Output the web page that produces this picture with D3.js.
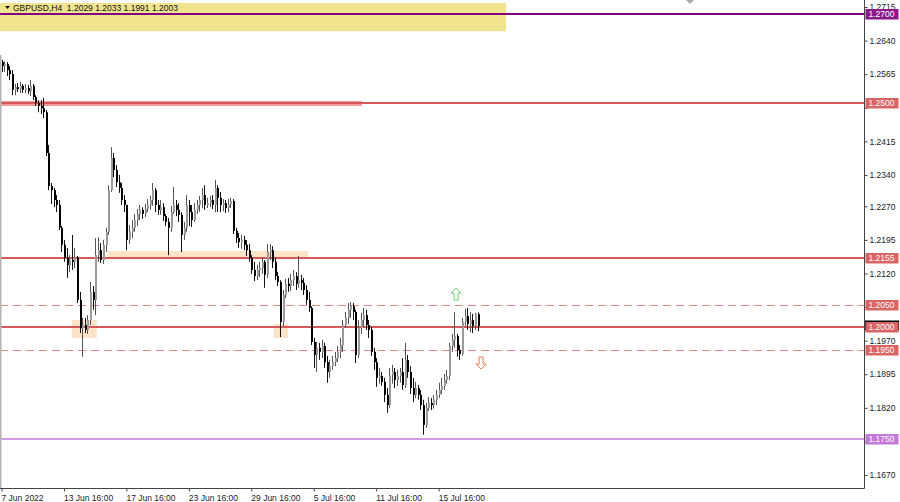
<!DOCTYPE html>
<html><head><meta charset="utf-8">
<script src="https://cdn.jsdelivr.net/npm/d3@7"></script>
<style>
html,body{margin:0;padding:0;background:#fff;}
svg{display:block;font-family:"Liberation Sans",Arial,sans-serif;}
</style></head>
<body><svg id="c" width="900" height="502"></svg>
<script>
// ---- data ----
const symbolTitle = "GBPUSD,H4  1.2029 1.2033 1.1991 1.2003";
const dateLabels = ["7 Jun 2022","13 Jun 16:00","17 Jun 16:00","23 Jun 16:00","29 Jun 16:00","5 Jul 16:00","11 Jul 16:00","15 Jul 16:00"];
const dateTickIdx = [0,24,48,72,96,120,144,168];
const priceTicks = [1.2715,1.2640,1.2565,1.2490,1.2415,1.2340,1.2270,1.2195,1.2120,1.2045,1.1970,1.1895,1.1820,1.1745,1.1670];
const hiddenTicks = [1.2490,1.2045,1.1745]; // covered by level labels in the original
const openP = [1.2592,1.2583,1.2588,1.2574,1.2565,1.2530,1.2536,1.2532,1.2539,1.2530,1.2534,1.2527,1.2539,1.2514,1.2501,1.2494,1.2489,1.2480,1.2389,1.2315,
1.2306,1.2284,1.2273,1.2222,1.2184,1.2155,1.2139,1.2150,1.2146,1.2155,1.2061,1.1998,1.2005,1.1994,1.2016,1.2079,1.2061,1.2161,1.2172,1.2150,
1.2184,1.2213,1.2306,1.2378,1.2351,1.2324,1.2311,1.2284,1.2273,1.2195,1.2213,1.2222,1.2239,1.2253,1.2262,1.2253,1.2264,1.2273,1.2284,1.2306,
1.2273,1.2262,1.2268,1.2248,1.2235,1.2222,1.2257,1.2273,1.2262,1.2251,1.2206,1.2222,1.2273,1.2257,1.2239,1.2262,1.2273,1.2284,1.2295,1.2273,
1.2277,1.2284,1.2273,1.2311,1.2289,1.2273,1.2277,1.2266,1.2275,1.2282,1.2215,1.2199,1.2190,1.2195,1.2184,1.2172,1.2155,1.2128,1.2114,1.2128,
1.2132,1.2146,1.2117,1.2168,1.2172,1.2146,1.2114,1.2101,1.2012,1.2072,1.2097,1.2092,1.2105,1.2114,1.2097,1.2105,1.2099,1.2083,1.2061,1.2043,
1.1967,1.1938,1.1954,1.1945,1.1958,1.1922,1.1900,1.1913,1.1922,1.1931,1.1945,1.1960,1.2005,1.2021,1.2039,1.2047,1.2034,1.1938,1.1998,1.2016,
1.2027,1.2005,1.1994,1.1945,1.1922,1.1887,1.1891,1.1878,1.1849,1.1826,1.1893,1.1900,1.1882,1.1891,1.1900,1.1871,1.1927,1.1900,1.1864,1.1849,
1.1864,1.1849,1.1826,1.1782,1.1820,1.1831,1.1826,1.1838,1.1849,1.1860,1.1869,1.1882,1.1891,1.1958,1.1972,1.1980,1.1949,1.1940,1.2012,1.2025,
1.2007,1.2016,1.2003,1.2029];
const highP = [1.2597,1.2594,1.2592,1.2583,1.2574,1.2543,1.2545,1.2548,1.2543,1.2543,1.2541,1.2552,1.2543,1.2518,1.2507,1.2507,1.2512,1.2485,1.2407,1.2322,
1.2311,1.2295,1.2284,1.2226,1.2195,1.2177,1.2161,1.2206,1.2177,1.2159,1.2079,1.2021,1.2021,1.2027,1.2101,1.2092,1.2199,1.2201,1.2188,1.2195,
1.2222,1.2317,1.2402,1.2389,1.2362,1.2340,1.2322,1.2295,1.2273,1.2228,1.2239,1.2253,1.2264,1.2273,1.2268,1.2275,1.2286,1.2293,1.2322,1.2311,
1.2284,1.2284,1.2277,1.2253,1.2244,1.2271,1.2313,1.2284,1.2277,1.2257,1.2235,1.2295,1.2284,1.2273,1.2277,1.2284,1.2293,1.2311,1.2317,1.2289,
1.2293,1.2295,1.2329,1.2317,1.2302,1.2286,1.2284,1.2286,1.2289,1.2286,1.2222,1.2210,1.2206,1.2204,1.2195,1.2186,1.2161,1.2146,1.2139,1.2146,
1.2155,1.2150,1.2186,1.2186,1.2181,1.2155,1.2123,1.2105,1.2083,1.2108,1.2110,1.2119,1.2128,1.2123,1.2159,1.2117,1.2110,1.2094,1.2079,1.2047,
1.1976,1.1967,1.1965,1.1972,1.1965,1.1936,1.1927,1.1936,1.1945,1.1958,1.1976,1.2016,1.2034,1.2054,1.2056,1.2054,1.2039,1.2016,1.2032,1.2043,
1.2039,1.2016,1.2001,1.1954,1.1931,1.1909,1.1900,1.1887,1.1864,1.1909,1.1916,1.1909,1.1905,1.1909,1.1931,1.1965,1.1938,1.1913,1.1887,1.1878,
1.1871,1.1860,1.1838,1.1831,1.1844,1.1842,1.1849,1.1860,1.1876,1.1887,1.1896,1.1905,1.1965,1.1985,1.2034,1.1985,1.1960,1.2021,1.2041,1.2043,
1.2034,1.2030,1.2032,1.2033];
const lowP = [1.2570,1.2570,1.2561,1.2552,1.2518,1.2518,1.2525,1.2523,1.2523,1.2523,1.2521,1.2516,1.2507,1.2494,1.2480,1.2476,1.2467,1.2382,1.2306,1.2275,
1.2268,1.2257,1.2217,1.2168,1.2146,1.2110,1.2123,1.2128,1.2132,1.2054,1.1987,1.1934,1.1987,1.1985,1.2005,1.2039,1.2027,1.2146,1.2143,1.2141,
1.2168,1.2206,1.2302,1.2335,1.2313,1.2300,1.2273,1.2257,1.2172,1.2186,1.2199,1.2213,1.2226,1.2239,1.2242,1.2246,1.2257,1.2262,1.2271,1.2257,
1.2251,1.2251,1.2237,1.2226,1.2161,1.2213,1.2253,1.2248,1.2235,1.2168,1.2195,1.2213,1.2226,1.2224,1.2235,1.2253,1.2257,1.2266,1.2262,1.2266,
1.2268,1.2264,1.2257,1.2257,1.2257,1.2259,1.2255,1.2257,1.2266,1.2208,1.2188,1.2177,1.2175,1.2172,1.2159,1.2146,1.2119,1.2103,1.2105,1.2112,
1.2119,1.2088,1.2110,1.2150,1.2132,1.2105,1.2092,1.1978,1.2003,1.2065,1.2079,1.2081,1.2092,1.2083,1.2088,1.2083,1.2072,1.2050,1.2034,1.1960,
1.1909,1.1900,1.1927,1.1931,1.1909,1.1876,1.1887,1.1905,1.1913,1.1922,1.1931,1.1945,1.1998,1.2007,1.2021,1.2016,1.1920,1.1931,1.1985,1.2001,
1.1994,1.1976,1.1936,1.1905,1.1867,1.1874,1.1869,1.1833,1.1809,1.1820,1.1874,1.1864,1.1869,1.1876,1.1860,1.1864,1.1887,1.1851,1.1833,1.1842,
1.1838,1.1815,1.1760,1.1775,1.1813,1.1815,1.1818,1.1826,1.1842,1.1851,1.1860,1.1874,1.1882,1.1945,1.1954,1.1934,1.1927,1.1936,1.2003,1.1994,
1.1989,1.1987,1.1994,1.1991];
const closeP = [1.2583,1.2588,1.2574,1.2565,1.2530,1.2536,1.2532,1.2539,1.2530,1.2534,1.2527,1.2539,1.2514,1.2501,1.2494,1.2489,1.2480,1.2389,1.2315,1.2306,
1.2284,1.2273,1.2222,1.2184,1.2155,1.2139,1.2150,1.2146,1.2155,1.2061,1.1998,1.2005,1.1994,1.2016,1.2079,1.2061,1.2161,1.2172,1.2150,1.2184,
1.2213,1.2306,1.2378,1.2351,1.2324,1.2311,1.2284,1.2273,1.2195,1.2213,1.2222,1.2239,1.2253,1.2262,1.2253,1.2264,1.2273,1.2284,1.2306,1.2273,
1.2262,1.2268,1.2248,1.2235,1.2222,1.2257,1.2273,1.2262,1.2251,1.2206,1.2222,1.2273,1.2257,1.2239,1.2262,1.2273,1.2284,1.2295,1.2273,1.2277,
1.2284,1.2273,1.2311,1.2289,1.2273,1.2277,1.2266,1.2275,1.2282,1.2215,1.2199,1.2190,1.2195,1.2184,1.2172,1.2155,1.2128,1.2114,1.2128,1.2132,
1.2146,1.2117,1.2168,1.2172,1.2146,1.2114,1.2101,1.2012,1.2072,1.2097,1.2092,1.2105,1.2114,1.2097,1.2105,1.2099,1.2083,1.2061,1.2043,1.1967,
1.1938,1.1954,1.1945,1.1958,1.1922,1.1900,1.1913,1.1922,1.1931,1.1945,1.1960,1.2005,1.2021,1.2039,1.2047,1.2034,1.1938,1.1998,1.2016,1.2027,
1.2005,1.1994,1.1945,1.1922,1.1887,1.1891,1.1878,1.1849,1.1826,1.1893,1.1900,1.1882,1.1891,1.1900,1.1871,1.1927,1.1900,1.1864,1.1849,1.1864,
1.1849,1.1826,1.1782,1.1820,1.1831,1.1826,1.1838,1.1849,1.1860,1.1869,1.1882,1.1891,1.1958,1.1972,1.1980,1.1949,1.1940,1.2012,1.2025,1.2007,
1.2016,1.2003,1.2029,1.2003];
const currentPrice = 1.2003;
const levelPrices = [1.2700, 1.2500, 1.2155, 1.2050, 1.2000, 1.1950, 1.1750];
const levelKinds  = ["purple","red","red","dash","red","dash","violet"];
// zones: [startIdx, endIdx, priceTop, priceBottom]
const zoneYellow = [-2, 193.9, 1.2724, 1.2661];
const zoneBand2500 = [-2, 138.5, 1.2505, 1.2494];
const zonesPeach = [[27.0, 36.6, 1.2016, 1.1976],[40.9, 117.8, 1.2170, 1.2155],[104.7, 110.1, 1.2007, 1.1976]];
const arrowUp = [174.7, 1.2074];
const arrowDown = [184.3, 1.1920];

// ---- layout ----
const W = 900, H = 502, axisX = 864, axisY = 488;
const FONT = 8.5;
const svg = d3.select("#c");
const x = d3.scaleLinear().domain([0, 183]).range([1.5, 477.7]);
const y = d3.scaleLinear().domain([1.1670, 1.2715]).range([475, 7]);

svg.append("defs").append("clipPath").attr("id","plot")
  .append("rect").attr("x",0).attr("y",0).attr("width",axisX).attr("height",axisY);
const plot = svg.append("g").attr("clip-path","url(#plot)");

// zones
plot.append("rect").attr("x",x(zoneYellow[0])).attr("width",x(zoneYellow[1])-x(zoneYellow[0]))
  .attr("y",y(zoneYellow[2])).attr("height",y(zoneYellow[3])-y(zoneYellow[2])).attr("fill","#f1e48e");
plot.selectAll("rect.peach").data(zonesPeach).join("rect").attr("class","peach")
  .attr("x",d=>x(d[0])).attr("width",d=>x(d[1])-x(d[0]))
  .attr("y",d=>y(d[2])).attr("height",d=>y(d[3])-y(d[2])).attr("fill","#fae3c7");
plot.append("rect").attr("x",x(zoneBand2500[0])).attr("width",x(zoneBand2500[1])-x(zoneBand2500[0]))
  .attr("y",y(zoneBand2500[2])).attr("height",y(zoneBand2500[3])-y(zoneBand2500[2])).attr("fill","#f29a9a");

// level lines
const lvlStyle = {
  purple:{c:"#800080",w:2,dash:null,bg:"#8a1a8a"},
  red:{c:"#d65858",w:2,dash:null,bg:"#d86464"},
  dash:{c:"#e08a8a",w:1,dash:"8,5",bg:"#d86464"},
  violet:{c:"#c27ad8",w:1.5,dash:null,bg:"#c27ad8"}
};
levelPrices.forEach((p,i)=>{
  const s = lvlStyle[levelKinds[i]];
  const yy = Math.round(y(p)) + (s.w===1?0.5:0);
  plot.append("line").attr("x1",0).attr("x2",axisX).attr("y1",yy).attr("y2",yy)
    .attr("stroke",s.c).attr("stroke-width",s.w).attr("stroke-dasharray",s.dash);
});

// left edge line
svg.append("line").attr("x1",0.75).attr("x2",0.75).attr("y1",55).attr("y2",axisY)
  .attr("stroke","#b4b4b4").attr("stroke-width",1.5);

// candles
const idx = d3.range(closeP.length);
const cg = plot.append("g");
cg.selectAll("line.w").data(idx).join("line").attr("class","w")
  .attr("x1",i=>Math.round(x(i))+0.5).attr("x2",i=>Math.round(x(i))+0.5)
  .attr("y1",i=>y(highP[i])).attr("y2",i=>y(lowP[i]))
  .attr("stroke",i=>closeP[i]>=openP[i]?"#555":"#111").attr("stroke-width",1);
cg.selectAll("rect.b").data(idx).join("rect").attr("class","b")
  .attr("x",i=>Math.round(x(i))).attr("width",2)
  .attr("y",i=>y(Math.max(openP[i],closeP[i])))
  .attr("height",i=>Math.max(1, Math.abs(y(openP[i])-y(closeP[i]))))
  .attr("fill",i=>closeP[i]>=openP[i]?"#9a9a9a":"#000");

// arrows (hollow)
function arrowPath(cx, cy, up){
  const s = up?1:-1;
  const pts = [[0,-6],[5,-1],[2,-1],[2,6],[-2,6],[-2,-1],[-5,-1]];
  return "M"+pts.map(p=>[cx+p[0], cy+s*p[1]].join(",")).join("L")+"Z";
}
plot.append("path").attr("d",arrowPath(x(arrowUp[0]),y(arrowUp[1]),true))
  .attr("fill","none").attr("stroke","#6cd46c").attr("stroke-width",1);
plot.append("path").attr("d",arrowPath(x(arrowDown[0]),y(arrowDown[1]),false))
  .attr("fill","none").attr("stroke","#f0784a").attr("stroke-width",1);

// axes frame
svg.append("line").attr("x1",axisX+0.5).attr("x2",axisX+0.5).attr("y1",0).attr("y2",axisY+0.5)
  .attr("stroke","#444").attr("stroke-width",1);
svg.append("line").attr("x1",0).attr("x2",axisX+0.5).attr("y1",axisY+0.5).attr("y2",axisY+0.5)
  .attr("stroke","#444").attr("stroke-width",1);

// right price axis (labels hidden under level boxes are left as tick marks only)
const ya = svg.append("g").attr("transform",`translate(${axisX+0.5},0)`)
  .call(d3.axisRight(y).tickValues(priceTicks).tickSize(3).tickPadding(2)
    .tickFormat(d=>hiddenTicks.includes(d)?"":d3.format(".4f")(d)));
ya.select(".domain").remove();
ya.selectAll("text").attr("font-size",FONT).attr("fill","#222").attr("font-family","Liberation Sans, Arial, sans-serif");
ya.selectAll("line").attr("stroke","#444");

// bottom time axis
const xa = svg.append("g").attr("transform",`translate(0,${axisY+0.5})`)
  .call(d3.axisBottom(x).tickValues(dateTickIdx).tickSize(3).tickPadding(3).tickFormat((d,i)=>dateLabels[i]));
xa.select(".domain").remove();
xa.selectAll("text").attr("font-size",FONT).attr("fill","#222").attr("text-anchor","start")
  .attr("dx",-0.5).attr("font-family","Liberation Sans, Arial, sans-serif");
xa.selectAll("line").attr("stroke","#444");

// current price marker (mostly hidden)
svg.append("rect").attr("x",axisX+1).attr("width",34).attr("y",Math.round(y(currentPrice))-5.5).attr("height",10).attr("fill","#000");

// level labels on the axis
levelPrices.forEach((p,i)=>{
  const s = lvlStyle[levelKinds[i]];
  const yy = Math.round(y(p));
  svg.append("rect").attr("x",axisX+1.5).attr("width",33).attr("y",yy-5).attr("height",10.5).attr("fill",s.bg);
  svg.append("text").attr("x",axisX+4.5).attr("y",yy+3).attr("font-size",FONT).attr("fill","#fff")
    .text(d3.format(".4f")(p));
});

// title
svg.append("path").attr("d","M5,6L10,6L7.5,9Z").attr("fill","#111");
svg.append("text").attr("x",13).attr("y",11).attr("font-size",FONT).attr("fill","#111")
  .attr("xml:space","preserve").style("white-space","pre").text(symbolTitle);

// shift marker at top
svg.append("path").attr("d","M686,0L694,0L690,4Z").attr("fill","#aaa");
</script></body></html>
